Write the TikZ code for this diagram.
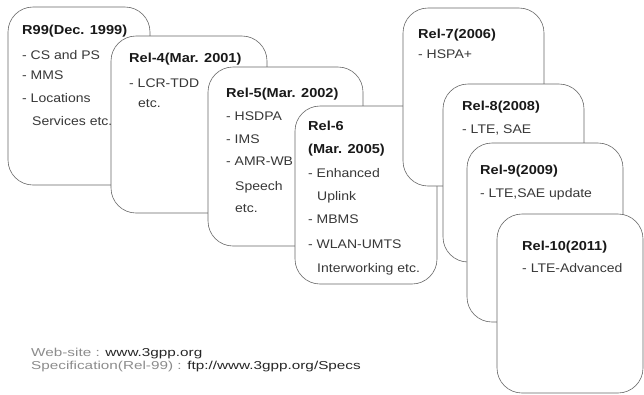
\documentclass[tikz,border=0pt]{standalone}
\usepackage{fontspec}
\setmainfont{Liberation Sans}
\newfontfamily\bodyf{Liberation Sans}[FakeStretch=1.12]
\newfontfamily\footf{Liberation Sans}[FakeStretch=1.33]
\begin{document}
\begin{tikzpicture}[x=1pt,y=-1pt,
  relbox/.style={draw=black!60, line width=0.6pt, fill=white, rounded corners=25pt},
  ttl/.style={anchor=base west, inner sep=0pt, font=\bodyf\bfseries\fontsize{13}{15}\selectfont, text=black!90},
  itm/.style={anchor=base west, inner sep=0pt, font=\bodyf\fontsize{12.5}{15}\selectfont, text=black!78},
  ftr/.style={anchor=base west, inner sep=0pt, font=\footf\fontsize{11.5}{13}\selectfont}]
\path[use as bounding box] (0,0) rectangle (644,394);
\clip (0,0) rectangle (644,394);
% R99
\draw[relbox] (8,7) rectangle (150,185);
\node[ttl] (t1) at (22,34) {R99(Dec. 1999)};
\node[itm] (a1) at (22,59) {- CS and PS};
\node[itm] (a2) at (22,79) {- MMS};
\node[itm] (a3) at (22,102) {- Locations};
\node[itm] (a4) at (32,125) {Services etc.};
% Rel-4
\draw[relbox] (111,36) rectangle (267,213);
\node[ttl] (t2) at (129,62) {Rel-4(Mar. 2001)};
\node[itm] (b1) at (129,87) {- LCR-TDD};
\node[itm] (b2) at (138,107) {etc.};
% Rel-5
\draw[relbox] (208,67) rectangle (363,246);
\node[ttl] (t3) at (226,97) {Rel-5(Mar. 2002)};
\node[itm] (c1) at (226,120) {- HSDPA};
\node[itm] (c2) at (226,143) {- IMS};
\node[itm] (c3) at (226,165) {- AMR-WB};
\node[itm] (c4) at (235,190) {Speech};
\node[itm] (c5) at (235,212) {etc.};
% Rel-6
\draw[relbox] (295,106) rectangle (437,284);
\node[ttl] (t4) at (308,130) {Rel-6};
\node[ttl] (t4b) at (308,153) {(Mar. 2005)};
\node[itm] (d1) at (308,177) {- Enhanced};
\node[itm] (d2) at (317,200) {Uplink};
\node[itm] (d3) at (308,223) {- MBMS};
\node[itm] (d4) at (308,248) {- WLAN-UMTS};
\node[itm] (d5) at (317,272) {Interworking etc.};
% Rel-7
\draw[relbox] (403,8) rectangle (544,186);
\node[ttl] (t5) at (418,38) {Rel-7(2006)};
\node[itm] (e1) at (418,58) {- HSPA+};
% Rel-8
\draw[relbox] (443,84) rectangle (584,262);
\node[ttl] (t6) at (462,110) {Rel-8(2008)};
\node[itm] (f1) at (462,133) {- LTE, SAE};
% Rel-9
\draw[relbox] (467,143) rectangle (623,322);
\node[ttl] (t7) at (480,174) {Rel-9(2009)};
\node[itm] (g1) at (480,197) {- LTE,SAE update};
% Rel-10
\draw[relbox] (497,214) rectangle (643,393);
\node[ttl] (t8) at (522,250) {Rel-10(2011)};
\node[itm] (h1) at (522,272) {- LTE-Advanced};
% footer
\node[ftr] (w1) at (31,356) {\textcolor{black!45}{Web-site :} \textcolor{black!85}{www.3gpp.org}};
\node[ftr] (w2) at (31,369) {\textcolor{black!45}{Specification(Rel-99) :} \textcolor{black!85}{ftp://www.3gpp.org/Specs}};
\end{tikzpicture}
\end{document}
